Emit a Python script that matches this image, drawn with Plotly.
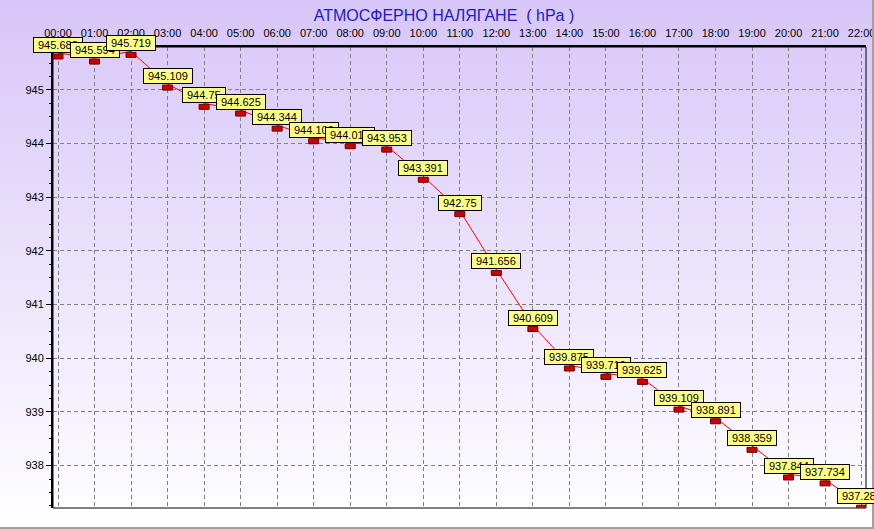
import base64
import plotly.graph_objects as go

hours = ["00:00", "01:00", "02:00", "03:00", "04:00", "05:00", "06:00", "07:00",
         "08:00", "09:00", "10:00", "11:00", "12:00", "13:00", "14:00", "15:00",
         "16:00", "17:00", "18:00", "19:00", "20:00", "21:00", "22:00"]
pressure = [945.688, 945.594, 945.719, 945.109, 944.75, 944.625, 944.344, 944.109,
            944.016, 943.953, 943.391, 942.75, 941.656, 940.609, 939.875, 939.719,
            939.625, 939.109, 938.891, 938.359, 937.844, 937.734, 937.281]
y_ticks = [938, 939, 940, 941, 942, 943, 944, 945]
title_text = "АТМОСФЕРНО НАЛЯГАНЕ  ( hPa )"

W, H = 874, 529
ML, MR, MT, MB = 53, 8, 47, 21
PW, PH = W - ML - MR, H - MT - MB

xs = list(range(len(hours)))

fig = go.Figure()
fig.add_trace(go.Scatter(x=xs, y=pressure, mode="lines",
                         line=dict(color="#ff0000", width=1),
                         hoverinfo="skip", showlegend=False))

shapes = []
shapes.append(dict(type="rect", xref="paper", yref="paper", x0=0, x1=1, y0=0, y1=1,
                   line=dict(color="black", width=1), layer="above"))
for x, v in zip(xs, pressure):
    shapes.append(dict(type="rect", xref="x", yref="y",
                       xsizemode="pixel", xanchor=x, x0=-5, x1=5,
                       ysizemode="pixel", yanchor=v, y0=-6, y1=-1,
                       fillcolor="#cc0000", line=dict(color="#700000", width=1),
                       layer="above"))
shapes.append(dict(type="line", xref="paper", yref="paper",
                   x0=(W - 1 - ML) / PW, x1=(W - 1 - ML) / PW,
                   y0=-(MB) / PH, y1=1 + MT / PH,
                   line=dict(color="#a0a0a0", width=2)))
shapes.append(dict(type="line", xref="paper", yref="paper",
                   x0=-ML / PW, x1=1 + MR / PW,
                   y0=-(MB - 1) / PH, y1=-(MB - 1) / PH,
                   line=dict(color="#a0a0a0", width=2)))

def fmt(v):
    return f"{v:.3f}".rstrip("0").rstrip(".")

annotations = []
for x, v in zip(xs, pressure):
    t = fmt(v)
    tw = 6.12 * (len(t) - 1) + 3.06
    annotations.append(dict(x=x, y=v, xref="x", yref="y", text=t, showarrow=False,
                            xanchor="center", yanchor="bottom",
                            font=dict(family="Liberation Sans, Arial", size=11, color="black"),
                            bgcolor="#ffff88", bordercolor="black", borderwidth=1,
                            borderpad=0, width=tw + 8, height=14))

svg = (f'<svg xmlns="http://www.w3.org/2000/svg" width="{W}" height="{H}" preserveAspectRatio="none">'
       '<defs><linearGradient id="g" x1="0" y1="0" x2="0" y2="1">'
       '<stop offset="0" stop-color="#d7c6f8"/><stop offset="1" stop-color="#ffffff"/>'
       '</linearGradient></defs>'
       f'<rect width="{W}" height="{H}" fill="url(#g)"/></svg>')
src = "data:image/svg+xml;base64," + base64.b64encode(svg.encode()).decode()

fig.update_layout(
    width=W, height=H,
    margin=dict(l=ML, r=MR, t=MT, b=MB, pad=0, autoexpand=False),
    paper_bgcolor="white", plot_bgcolor="rgba(0,0,0,0)",
    font=dict(family="Liberation Sans, Arial", size=11, color="black"),
    title=dict(text=title_text, x=444 / W, y=1 - 15 / H, xref="container", yref="container",
               xanchor="center", yanchor="middle",
               font=dict(family="Liberation Sans, Arial", size=16, color="#1a1ac8")),
    shapes=shapes, annotations=annotations,
    images=[dict(source=src, xref="paper", yref="paper",
                 x=-ML / PW, y=1 + MT / PH, sizex=W / PW, sizey=H / PH,
                 xanchor="left", yanchor="top", sizing="stretch", layer="below")],
    xaxis=dict(side="top", range=[-0.137, 22.12], tickmode="array",
               tickvals=xs, ticktext=hours, showgrid=True,
               gridcolor="#808080", griddash="4px,3px", gridwidth=1,
               showline=True, linecolor="black", linewidth=2,
               ticks="", ticklabelstandoff=4, zeroline=False, automargin=False,
               ticklabeloverflow="allow", tickfont=dict(size=11)),
    yaxis=dict(range=[937.21, 945.80], tickmode="array", tickvals=y_ticks,
               showgrid=True, gridcolor="#808080", griddash="4px,3px", gridwidth=1,
               showline=True, linecolor="black", linewidth=2,
               ticks="outside", ticklen=5, tickcolor="black", zeroline=False, automargin=False,
               ticklabeloverflow="allow", tickfont=dict(size=11),
               minor=dict(tickmode="linear", tick0=945, dtick=0.25, ticks="outside",
                          ticklen=2, tickcolor="black", showgrid=False)),
)

fig.write_html("out.html", config={"displayModeBar": False},
               post_script="document.body.style.margin='0';document.body.style.overflow='hidden';")
